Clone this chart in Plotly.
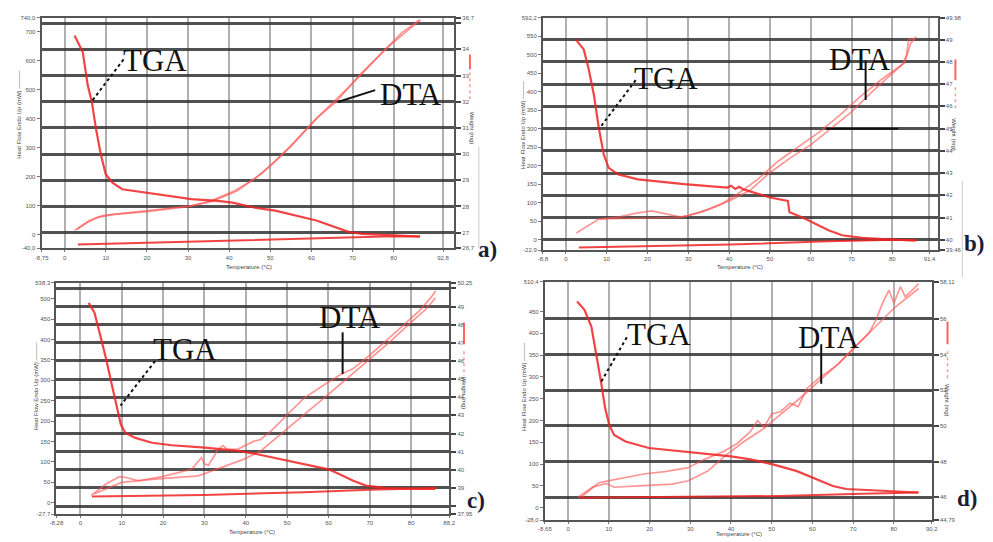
import plotly.graph_objects as go

W, H = 993, 542          # reference picture size
OFF = 8                  # default page body margin around the plot div
FW, FH = W - OFF, H - OFF

# ---------------- data (x = temperature scale units, y = left heat-flow axis units) ----------------
a_tga_x = [2.4, 4.4, 5.6, 6.6, 7.6, 8.8, 10, 11.6, 14, 20.4, 30.8, 37.2, 40.8, 46, 51.2, 61.2, 66, 69.2, 72.4, 82, 86.4]
a_tga_y = [687, 630, 516, 458, 367, 276, 208, 180, 157, 145, 123, 117, 111, 94, 83, 49, 26, 9, 3, -2, -6]
a_dta1_x = [2.4, 6, 9.2, 20.4, 30.8, 35.6, 41.2, 46, 51.2, 56, 61.2, 66, 71.6, 77.2, 82, 86.4]
a_dta1_y = [15, 49, 66, 83, 100, 117, 151, 191, 253, 322, 401, 458, 549, 628, 697, 742]
a_dta2_x = [3.0, 5.5, 8, 12, 20, 30, 36, 42, 48, 55, 62, 70, 78, 86.4]
a_dta2_y = [18, 42, 60, 70, 80, 97, 116, 152, 212, 305, 412, 522, 640, 740]
a_base_x = [3.2, 26, 50, 70, 80, 86.4]
a_base_y = [-34, -25, -17, -8, -5, -6]

b_tga_x = [2.4, 4.4, 5.6, 6.9, 8.1, 9.3, 10.5, 12.9, 17.7, 29, 39.5, 40.5, 41.5, 42.5, 43.5, 50, 54.4, 54.8, 58, 61.3, 64.5, 67.7, 72.6, 80.6, 85.5]
b_tga_y = [541, 514, 461, 390, 301, 230, 194, 176, 163, 150, 141, 146, 137, 143, 136, 114, 105, 74, 60, 43, 25, 12, 5, 0, -2]
b_dta1_x = [2.6, 5.6, 8.1, 12.9, 17, 21, 25, 28, 30, 35, 40, 45, 50, 55, 60, 65, 70, 75, 80, 82.5, 83.5, 84, 85.5]
b_dta1_y = [18, 38, 56, 61, 71, 78, 69, 62, 65, 82, 105, 132, 181, 221, 256, 301, 345, 399, 448, 474, 500, 541, 543]
b_dta2_x = [8.1, 15, 22, 28, 33, 38, 42, 47, 52, 57, 62, 67, 72, 77, 81, 83, 84.5, 85.8]
b_dta2_y = [56, 58, 59, 60, 74, 96, 123, 163, 212, 250, 290, 335, 385, 430, 462, 478, 530, 548]
b_base_x = [3.2, 20, 40.3, 64.5, 80.6, 85.9]
b_base_y = [-21, -17, -13, -4, 0, -2]

c_tga_x = [2.0, 3.4, 4.6, 6.2, 7.8, 9.0, 9.8, 10.9, 13.3, 17.3, 22.1, 30.1, 38.1, 42.8, 50, 55.6, 60, 62.7, 66, 69.1, 73.9, 81.9, 85.9]
c_tga_y = [490, 466, 418, 353, 280, 224, 191, 171, 159, 147, 141, 135, 127, 119, 103, 90, 82, 70, 54, 42, 36, 34, 34]
c_dta1_x = [2.6, 6.2, 9.4, 10.5, 14.1, 19.7, 26.9, 29.3, 30.0, 31.0, 33.3, 34.5, 35.5, 38, 42, 43.6, 46, 50, 54, 58.8, 62.7, 66, 69.9, 73.9, 77.9, 81.9, 85, 85.9]
c_dta1_y = [18, 46, 64, 63, 54, 64, 82, 111, 95, 92, 131, 140, 131, 131, 151, 155, 175, 216, 256, 288, 313, 329, 361, 397, 434, 470, 506, 519]
c_dta2_x = [3.4, 10, 18, 28.5, 34, 39.6, 43.6, 48.4, 54, 58.8, 63.5, 69.1, 74.7, 79.5, 83.5, 85.9]
c_dta2_y = [22, 50, 58, 66, 86, 107, 127, 167, 216, 256, 296, 345, 393, 438, 474, 502]
c_base_x = [2.8, 30, 54, 69.9, 85.9]
c_base_y = [15, 19, 26, 32, 36]

d_tga_x = [2.2, 4.0, 5.7, 6.9, 8.1, 9.1, 10.1, 11.3, 14.1, 19.8, 27.9, 35.96, 40, 44.8, 50.5, 56.2, 61, 65, 68.3, 72.3, 80.4, 86.1]
d_tga_y = [473, 454, 416, 356, 288, 228, 190, 167, 152, 137, 130, 122, 118, 111, 99, 84, 66, 50, 43, 41, 38, 35]
d_dta1_x = [2.4, 5.3, 7.7, 10.1, 14.1, 19, 23.8, 29.5, 33.5, 38.4, 41.6, 44.8, 46.5, 48.1, 50, 52.1, 54.5, 56.5, 58.6, 61.8, 65.9, 69.9, 73.9, 75.6, 77.2, 78.8, 80, 81.6, 82.8, 86.1]
d_dta1_y = [24, 43, 58, 62, 69, 78, 83, 92, 111, 130, 148, 175, 200, 185, 215, 220, 240, 232, 273, 299, 326, 363, 401, 431, 469, 499, 469, 507, 484, 514]
d_dta2_x = [3.2, 6.1, 9.3, 11.3, 17.4, 25.5, 29.5, 34.3, 38.4, 43.2, 48.1, 52.9, 57.8, 61.8, 66.7, 70.7, 75.6, 80.4, 86.1]
d_dta2_y = [24, 47, 56, 47, 50, 54, 62, 84, 118, 152, 182, 220, 258, 292, 333, 371, 416, 461, 503]
d_base_x = [2.8, 13.3, 36, 52, 72.3, 86]
d_base_y = [23, 24, 26, 27, 32, 35]

# tick labels
a_xtext = ["-8,75", "0", "10", "20", "30", "40", "50", "60", "70", "80", "92,8"]
b_xtext = ["-8,8", "0", "10", "20", "30", "40", "50", "60", "70", "80", "91,4"]
c_xtext = ["-8,28", "0", "10", "20", "30", "40", "50", "60", "70", "80", "88,2"]
d_xtext = ["-8,65", "0", "10", "20", "30", "40", "50", "60", "70", "80", "90,2"]

# ---------------- layout per panel (pixel boxes and axis ranges) ----------------
panels = [
    dict(name="a", box=(35, 15, 453, 248), xr=(-5.6, 94.7), xlast=92.0, xtext=a_xtext,
         yl=(-46.7, 747.7), ylstep=100, yltop=700, ylend=("-40,0", "740,0"),
         yr=(26.4, 35.2), yrv=list(range(27, 36)), yrlab=[str(v) for v in range(27, 35)] + [""], yrend=("26,7", "36,7"),
         tga=(a_tga_x, a_tga_y), dta=[(a_dta1_x, a_dta1_y), (a_dta2_x, a_dta2_y)], base=(a_base_x, a_base_y)),
    dict(name="b", box=(543, 15, 943, 250), xr=(-5.6, 91.1), xlast=89.1, xtext=b_xtext,
         yl=(-28.5, 599), ylstep=50, yltop=550, ylend=("-22,9", "592,2"),
         yr=(39.53, 49.97), yrv=list(range(40, 50)), yrlab=[str(v) for v in range(40, 50)], yrend=("39,46", "49,98"),
         tga=(b_tga_x, b_tga_y), dta=[(b_dta1_x, b_dta1_y), (b_dta2_x, b_dta2_y)], base=(b_base_x, b_base_y)),
    dict(name="c", box=(50, 283, 448, 517), xr=(-5.8, 89.2), xlast=89.2, xtext=c_xtext,
         yl=(-28.3, 539), ylstep=50, yltop=500, ylend=("-27,7", "538,3"),
         yr=(37.55, 50.3), yrv=list(range(38, 51)), yrlab=[""] + [str(v) for v in range(39, 50)] + [""], yrend=("37,95", "50,25"),
         tga=(c_tga_x, c_tga_y), dta=[(c_dta1_x, c_dta1_y), (c_dta2_x, c_dta2_y)], base=(c_base_x, c_base_y)),
    dict(name="d", box=(545, 282, 937, 523), xr=(-5.7, 89.3), xlast=89.3, xtext=d_xtext,
         yl=(-28.6, 518), ylstep=50, yltop=450, ylend=("-28,0", "510,4"),
         yr=(44.71, 58.08), yrv=list(range(46, 57, 2)), yrlab=[str(v) for v in range(46, 57, 2)], yrend=("44,79", "58,11"),
         tga=(d_tga_x, d_tga_y), dta=[(d_dta1_x, d_dta1_y), (d_dta2_x, d_dta2_y)], base=(d_base_x, d_base_y)),
]

def PX(x):
    return (x - OFF) / FW

def PY(y):
    return 1 - (y - OFF) / FH

fig = go.Figure()
layout = dict(width=FW, height=FH, margin=dict(l=0, r=0, t=0, b=0),
              paper_bgcolor="white", plot_bgcolor="white", showlegend=False,
              font=dict(family="Arial, Liberation Sans, sans-serif", color="#555"))

TGA_COL = "rgba(240,35,35,0.85)"
DTA_COL = "rgba(255,80,80,0.6)"
GRID_H = "rgba(50,50,50,0.85)"
GRID_V = "rgba(150,150,150,0.75)"
tickfont = dict(size=6, color="#555")

for i, p in enumerate(panels):
    n = i + 1
    xa = "x" if n == 1 else f"x{n}"
    yl = "y" if n == 1 else f"y{2*n-1}"
    yr = f"y{2*n}"
    xkey = "xaxis" if n == 1 else f"xaxis{n}"
    ylkey = "yaxis" if n == 1 else f"yaxis{2*n-1}"
    yrkey = f"yaxis{2*n}"
    l, t, r, b = p["box"]

    xv = [p["xr"][0]] + list(range(0, 81, 10)) + [p["xlast"]]
    layout[xkey] = dict(domain=[PX(l), PX(r)], anchor=yl, range=list(p["xr"]),
                        tickmode="array", tickvals=xv, ticktext=p["xtext"], tickfont=tickfont,
                        showgrid=True, gridcolor=GRID_V, gridwidth=2, zeroline=False,
                        showline=True, linecolor="#555", linewidth=2, mirror=True,
                        ticks="outside", ticklen=2, tickcolor="#777")
    ylv = [p["yl"][0]] + list(range(0, p["yltop"] + 1, p["ylstep"])) + [p["yl"][1]]
    yltxt = [p["ylend"][0]] + [str(v) for v in range(0, p["yltop"] + 1, p["ylstep"])] + [p["ylend"][1]]
    layout[ylkey] = dict(domain=[PY(b), PY(t)], anchor=xa, range=list(p["yl"]),
                         tickmode="array", tickvals=ylv, ticktext=yltxt, tickfont=tickfont,
                         showgrid=False, zeroline=False, showline=True, linecolor="#555", linewidth=2,
                         ticks="outside", ticklen=3, tickcolor="#777")
    yrv = [p["yr"][0]] + p["yrv"] + [p["yr"][1]]
    yrt = [p["yrend"][0]] + p["yrlab"] + [p["yrend"][1]]
    layout[yrkey] = dict(overlaying=yl, side="right", anchor=xa, range=list(p["yr"]),
                         tickmode="array", tickvals=yrv, ticktext=yrt, tickfont=tickfont,
                         showgrid=True, gridcolor=GRID_H, gridwidth=2.5, zeroline=False,
                         showline=True, linecolor="#555", linewidth=2,
                         ticks="outside", ticklen=5, tickcolor="#444", tickwidth=2)

    # invisible helper so the right (weight) axis and its grid are drawn
    fig.add_trace(go.Scatter(x=[p["xr"][0]], y=[p["yr"][0]], mode="markers", xaxis=xa, yaxis=yr,
                             marker=dict(opacity=0), hoverinfo="skip"))
    for dx, dy in p["dta"]:
        fig.add_trace(go.Scatter(x=dx, y=dy, mode="lines", xaxis=xa, yaxis=yl,
                                 line=dict(color=DTA_COL, width=1.7), hoverinfo="skip"))
    fig.add_trace(go.Scatter(x=p["base"][0], y=p["base"][1], mode="lines", xaxis=xa, yaxis=yl,
                             line=dict(color=TGA_COL, width=2), hoverinfo="skip"))
    fig.add_trace(go.Scatter(x=p["tga"][0], y=p["tga"][1], mode="lines", xaxis=xa, yaxis=yl,
                             line=dict(color=TGA_COL, width=2.2), hoverinfo="skip"))

# ---------------- annotations & decorations (reference pixel positions) ----------------
ann = []
shapes = []

def text(x, y, s, size, color="#111", family="Liberation Serif, Times New Roman, serif", angle=0, xanchor="center"):
    ann.append(dict(x=PX(x), y=PY(y), xref="paper", yref="paper", text=s, showarrow=False,
                    xanchor=xanchor, yanchor="middle", textangle=angle,
                    font=dict(size=size, color=color, family=family)))

def seg(x0, y0, x1, y1, color="#111", width=2, dash="solid"):
    shapes.append(dict(type="line", xref="paper", yref="paper", x0=PX(x0), y0=PY(y0), x1=PX(x1), y1=PY(y1),
                       line=dict(color=color, width=width, dash=dash)))

# TGA / DTA labels
text(150, 58, "TGA", 31); text(409, 92, "DTA", 31)
text(668, 76, "TGA", 31); text(864, 57, "DTA", 31)
text(180, 350, "TGA", 31); text(347, 318, "DTA", 31)
text(661, 335, "TGA", 31); text(833, 338, "DTA", 31)
# leader lines
seg(118, 57, 86, 99, dash="dot"); seg(373, 88, 335, 100)
seg(637, 78, 600, 127, dash="dot"); seg(870, 58, 870, 98); seg(830, 127, 903, 127)
seg(150, 362, 115, 407, dash="dot"); seg(340, 333, 340, 375)
seg(628, 338, 602, 383, dash="dot"); seg(825, 345, 825, 385)
# panel letters
text(475, 249, "<b>a)</b>", 23, color="#1c1c38", xanchor="left")
text(992, 243, "<b>b)</b>", 23, color="#1c1c38", xanchor="right")
text(464, 503, "<b>c)</b>", 23, color="#1c1c38", xanchor="left")
text(961, 501, "<b>d)</b>", 23, color="#1c1c38", xanchor="left")

sans = "Arial, Liberation Sans, sans-serif"
# axis titles
text(12, 113, "Heat Flow Endo Up (mW) ———", 6, color="#444", family=sans, angle=-90)
text(522, 123, "Heat Flow Endo Up (mW) ———", 6, color="#444", family=sans, angle=-90)
text(29, 388, "Heat Flow Endo Up (mW) ———", 6, color="#444", family=sans, angle=-90)
text(524, 388, "Heat Flow Endo Up (mW) ———", 6, color="#444", family=sans, angle=-90)
text(471, 127, "Weight (mg)", 6, color="#444", family=sans, angle=90)
text(960, 133, "Weight (mg)", 6, color="#444", family=sans, angle=90)
text(463, 395, "Weight (mg)", 6, color="#444", family=sans, angle=90)
text(953, 402, "Weight (mg)", 6, color="#444", family=sans, angle=90)
text(245, 267, "Temperature (°C)", 6, color="#444", family=sans)
text(743, 267, "Temperature (°C)", 6, color="#444", family=sans)
text(248, 535, "Temperature (°C)", 6, color="#444", family=sans)
text(742, 537, "Temperature (°C)", 6, color="#444", family=sans)

# right-side legend marks (solid and dashed red)
for xx, y0, y1, y2, y3 in [(469, 52, 67, 70, 97), (961, 57, 78, 85, 108), (463, 323, 345, 352, 377), (953, 322, 345, 352, 380)]:
    seg(xx, y0, xx, y1, color="rgba(255,60,60,0.8)", width=2)
    seg(xx, y2, xx, y3, color="rgba(255,90,90,0.6)", width=1.5, dash="dot")
# faint vertical artefact lines
seg(478, 145, 478, 248, color="rgba(170,170,170,0.6)", width=1)
seg(968, 180, 968, 277, color="rgba(170,170,170,0.6)", width=1)

layout["annotations"] = ann
layout["shapes"] = shapes
fig.update_layout(**layout)
fig.write_html("out.html")
